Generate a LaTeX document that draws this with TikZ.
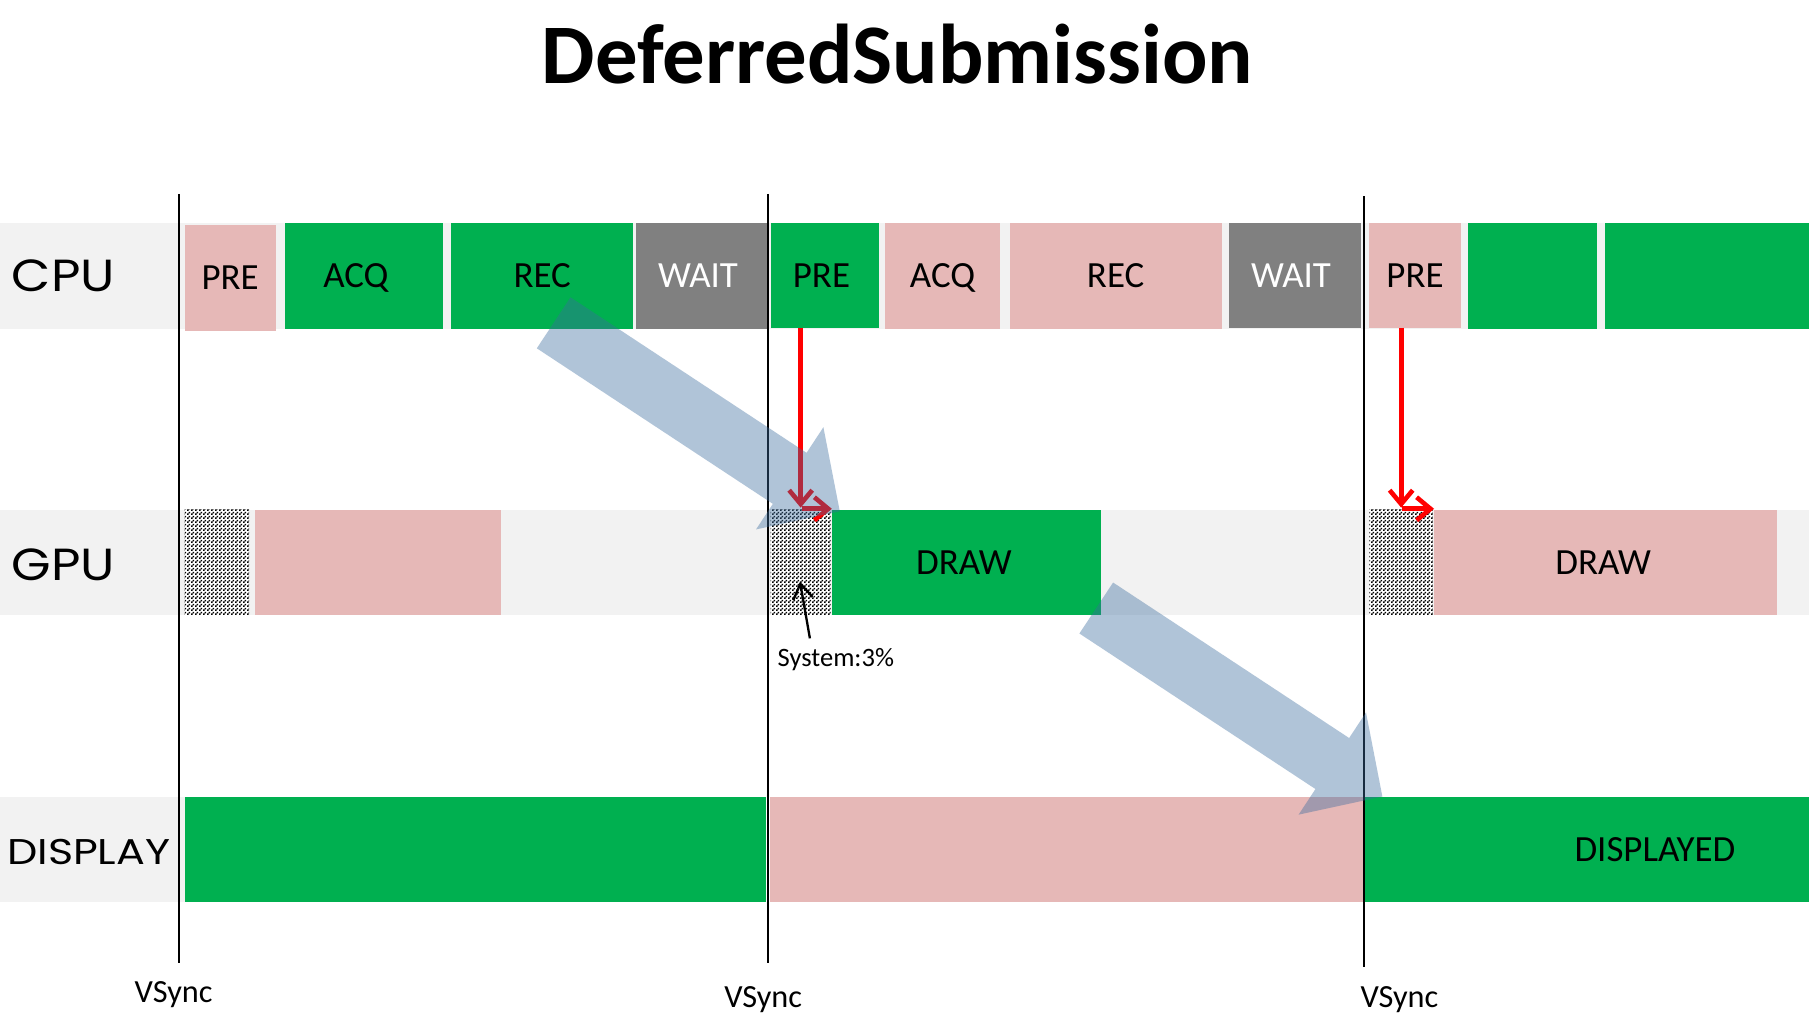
\documentclass[tikz,border=0pt]{standalone}
\usepackage{fontspec}
\setmainfont{Carlito}
\newfontfamily\rowfont{Poppins}
\usetikzlibrary{arrows.meta,patterns}
\definecolor{pinkc}{HTML}{E6B8B7}
\definecolor{greenc}{HTML}{00B050}
\definecolor{grayc}{HTML}{808080}
\definecolor{bandc}{HTML}{F2F2F2}
\definecolor{bluec}{RGB}{58,108,158}
\pgfdeclarepatternformonly{checker}{\pgfqpoint{0pt}{0pt}}{\pgfqpoint{3pt}{3pt}}{\pgfqpoint{3pt}{3pt}}{%
  \pgfpathrectangle{\pgfqpoint{0pt}{0pt}}{\pgfqpoint{1.5pt}{1.5pt}}%
  \pgfpathrectangle{\pgfqpoint{1.5pt}{1.5pt}}{\pgfqpoint{1.5pt}{1.5pt}}%
  \pgfusepath{fill}}
\newcommand\bx[7]{\node[box,#2,minimum width={(#5)-(#3)},minimum height={(#6)-(#4)}] (#1) at ({((#3)+(#5))/2},{((#4)+(#6))/2}) {#7};}
\begin{document}
\begin{tikzpicture}[x=1pt,y=-1pt,
  box/.style={rectangle,inner sep=0pt,outer sep=0pt,draw=none,font=\fontsize{32}{38}\selectfont,text height=20.6pt,text depth=0pt},
  hatch/.style={fill=white,postaction={pattern=checker}},
  band/.style={fill=bandc,draw=none},
  rowlbl/.style={inner sep=0pt,font=\rowfont\fontsize{39}{46}\selectfont,anchor=base west,transform shape,xscale=1.13},
  vline/.style={draw=black,line width=1.6pt},
  vslbl/.style={inner sep=0pt,font=\fontsize{28}{32}\selectfont,anchor=base},
  redarr/.style={draw=red,line width=4.5pt,-{Straight Barb[length=12pt,width=20pt,line width=4pt]}},
  blkarr/.style={draw=black,line width=2pt,-{Straight Barb[length=13pt,width=17pt]}},
  bluearr/.style={fill=bluec,fill opacity=0.4,draw=none}
]
\useasboundingbox (0,0) rectangle (1568,887);
\fill[white] (0,0) rectangle (1568,887);

% title
\node[inner sep=0pt,anchor=base,font=\bfseries\fontsize{73.5}{80}\selectfont] (title) at (778,72) {DeferredSubmission};

% bands
\fill[band] (0,193) rectangle (1568,285);
\fill[band] (0,442) rectangle (1568,533);
\fill[band] (0,691) rectangle (1568,782);

% row labels
\node[rowlbl] (cpu) at (10,253) {CPU};
\node[rowlbl] (gpu) at (10,503) {GPU};
\node[rowlbl,font=\rowfont\fontsize{31}{36}\selectfont,xscale=1.06] (disp) at (6,749) {DISPLAY};

% CPU row
\bx{pre1}{fill=pinkc}{160}{195}{239}{287}{PRE}
\bx{acq1}{fill=greenc}{247}{193}{384}{285}{\hspace*{-14pt}ACQ}
\bx{rec1}{fill=greenc}{391}{193}{549}{285}{REC}
\bx{wait1}{fill=grayc,text=white}{551}{193}{666}{285}{\hspace*{-7pt}WAIT}
\bx{pre2}{fill=greenc}{668}{193}{762}{284}{\hspace*{-6pt}PRE}
\bx{acq2}{fill=pinkc}{767}{193}{867}{285}{ACQ}
\bx{rec2}{fill=pinkc}{875}{193}{1059}{285}{REC}
\bx{wait2}{fill=grayc,text=white}{1065}{193}{1180}{284}{\hspace*{-7pt}WAIT}
\bx{pre3}{fill=pinkc}{1187}{193}{1266}{284}{PRE}
\bx{cpug1}{fill=greenc}{1272}{193}{1384}{285}{}
\bx{cpug2}{fill=greenc}{1391}{193}{1568}{285}{}

% GPU row
\bx{h1}{hatch}{160}{442}{216}{533}{}
\bx{gp1}{fill=pinkc}{221}{442}{434}{533}{}
\bx{h2}{hatch}{668}{442}{720}{533}{}
\bx{draw1}{fill=greenc}{721}{442}{954}{533}{\hspace*{-4pt}DRAW}
\bx{h3}{hatch}{1187}{442}{1242}{533}{}
\bx{draw2}{fill=pinkc}{1243}{442}{1540}{533}{\hspace*{-4pt}DRAW}

% DISPLAY row
\bx{d1}{fill=greenc}{160}{691}{664}{782}{}
\fill[white] (664,691) rectangle (667,782);
\bx{d2}{fill=pinkc}{667}{691}{1181}{782}{}
\bx{d3}{fill=greenc}{1183}{691}{1568}{782}{\hspace*{118pt}DISPLAYED}

% vsync lines
\coordinate (v1t) at (155,168); \coordinate (v1b) at (155,835);
\coordinate (v2t) at (666,168); \coordinate (v2b) at (666,835);
\coordinate (v3t) at (1182,170); \coordinate (v3b) at (1182,838);
\draw[vline] (v1t) -- (v1b);
\draw[vline] (v2t) -- (v2b);
\draw[vline] (v3t) -- (v3b);
\node[vslbl] (vs1) at (150.5,869) {VSync};
\node[vslbl] (vs2) at (661.5,873) {VSync};
\node[vslbl] (vs3) at (1213,873) {VSync};

% red arrows
\draw[redarr] (pre2.south -| h2.north) -- ([yshift=2pt]h2.north);
\draw[redarr] ([xshift=1pt,yshift=1pt]h2.north) -- ([yshift=1pt]draw1.north west);
\draw[redarr] (pre3.south -| h3.north) -- ([yshift=2pt]h3.north);
\draw[redarr] ([xshift=1pt,yshift=1pt]h3.north) -- ([yshift=1pt]draw2.north west);

% big translucent arrows
\foreach \sx/\sy in {479.9/279.8, 950.2/527} {
  \fill[bluearr,shift={(\sx,\sy)}] (14.6,-22.1) -- (219.2,112.7) -- (233.8,90.5) -- (248,163.4)
     -- (175.4,179.1) -- (190,156.9) -- (-14.6,22.1) -- cycle;
}

% system annotation
\node[inner sep=0pt,anchor=base,font=\fontsize{23}{27}\selectfont] (sys) at (724.5,577.3) {System:3\%};
\coordinate (systail) at (702,553.3);
\draw[blkarr] (systail) -- ([xshift=-0.6pt,yshift=-16.7pt]h2.center);
\end{tikzpicture}
\end{document}
